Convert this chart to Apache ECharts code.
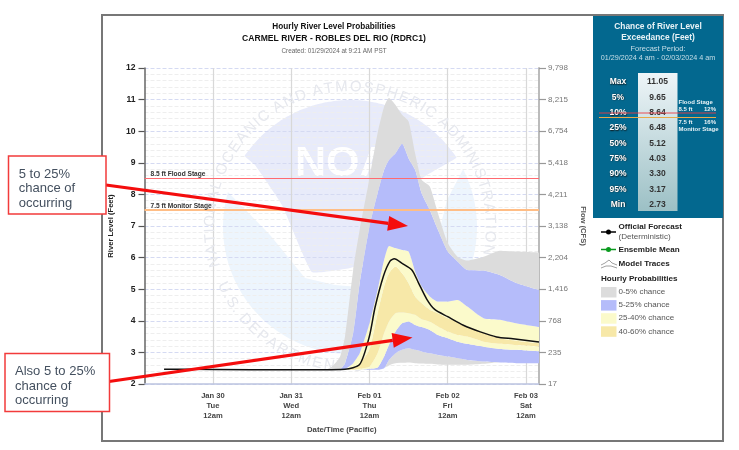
<!DOCTYPE html>
<html>
<head>
<meta charset="utf-8">
<style>
  html, body { margin: 0; padding: 0; background: #fff; }
  #chart { width: 739px; height: 450px; }
</style>
<script src="https://cdn.jsdelivr.net/npm/echarts@6/dist/echarts.min.js"></script>
</head>
<body>
<div id="chart"></div>
<script>
// hours counted from Jan 30 12am
var hours    = [-21, 35, 37, 39, 40.5, 43, 45, 48, 50.5, 52.5, 54, 56, 58, 60, 62, 64, 66.5, 69, 72, 75, 78, 83, 88, 93, 100];
var levelMin = [2.45, 2.45, 2.45, 2.45, 2.45, 2.45, 2.45, 2.45, 2.45, 2.50, 2.60, 2.66, 2.67, 2.68, 2.66, 2.65, 2.64, 2.62, 2.61, 2.61, 2.61, 2.64, 2.68, 2.66, 2.66];
var level95  = [2.45, 2.45, 2.45, 2.45, 2.45, 2.45, 2.45, 2.45, 2.45, 2.50, 2.76, 2.97, 3.08, 3.13, 3.08, 3.03, 2.97, 2.92, 2.87, 2.82, 2.76, 2.71, 2.68, 2.66, 2.66];
var level75  = [2.45, 2.45, 2.45, 2.45, 2.45, 2.45, 2.45, 2.48, 2.52, 2.87, 3.24, 3.66, 3.92, 3.98, 3.87, 3.80, 3.71, 3.55, 3.45, 3.34, 3.27, 3.18, 3.11, 3.08, 3.03];
var level60  = [2.45, 2.45, 2.45, 2.45, 2.45, 2.45, 2.48, 2.55, 2.97, 3.61, 3.98, 4.24, 4.26, 4.24, 4.19, 4.05, 3.98, 3.82, 3.66, 3.55, 3.50, 3.34, 3.27, 3.23, 3.19];
var level40  = [2.45, 2.45, 2.45, 2.45, 2.45, 2.52, 2.66, 3.08, 4.24, 5.09, 5.51, 5.72, 5.51, 5.19, 4.77, 4.56, 4.35, 4.24, 4.08, 3.98, 3.82, 3.61, 3.45, 3.37, 3.29];
var level25  = [2.45, 2.45, 2.45, 2.45, 2.47, 2.66, 2.97, 3.92, 4.98, 5.93, 6.37, 6.30, 6.24, 6.19, 5.56, 5.09, 4.77, 4.61, 4.61, 4.66, 4.45, 4.08, 4.03, 3.92, 3.80];
var level05  = [2.45, 2.45, 2.45, 2.47, 2.66, 3.61, 5.19, 6.98, 8.04, 8.78, 9.09, 9.30, 9.60, 9.14, 8.78, 8.04, 7.51, 6.88, 6.19, 5.88, 5.61, 5.59, 5.45, 5.20, 4.98];
var levelMax = [2.45, 2.47, 2.60, 2.87, 3.50, 5.61, 6.88, 8.50, 9.94, 10.78, 11.05, 10.83, 10.52, 10.31, 9.30, 8.46, 8.25, 7.40, 6.46, 6.03, 5.91, 6.03, 6.22, 6.19, 6.16];

var officialHours  = [-15, 0, 24, 40.5, 45, 48, 49.7, 52.3, 54.3, 55.6, 58, 61, 63, 65.6, 68, 72, 76.8, 82, 87, 92, 100];
var officialLevels = [2.47, 2.46, 2.45, 2.47, 2.62, 3.52, 4.42, 5.42, 5.89, 5.96, 5.82, 5.61, 5.21, 4.68, 4.36, 4.13, 3.86, 3.65, 3.49, 3.43, 3.33];

var xTickHours  = [0, 24, 48, 72, 96];
var xTickLabels = ['Jan 30\nTue\n12am', 'Jan 31\nWed\n12am', 'Feb 01\nThu\n12am', 'Feb 02\nFri\n12am', 'Feb 03\nSat\n12am'];
var flowTicks   = ['17', '235', '768', '1,416', '2,204', '3,138', '4,211', '5,418', '6,754', '8,215', '9,798'];

var stageLevels = [8.5, 7.5];
var stageNames  = ['8.5 ft Flood Stage', '7.5 ft Monitor Stage'];

var tableNames  = ['Max', '5%', '10%', '25%', '50%', '75%', '90%', '95%', 'Min'];
var tableValues = ['11.05', '9.65', '8.64', '6.48', '5.12', '4.03', '3.30', '3.17', '2.73'];

var legendNames  = ['0-5% chance', '5-25% chance', '25-40% chance', '40-60% chance'];
var legendColors = ['#dcdcdc', '#b5bcfa', '#fbfacb', '#f7e8a8'];

var FONT = '"Liberation Sans", Arial, sans-serif';
var JAN30 = Date.UTC(2024, 0, 30);

// hours -> time axis value
function toTime(h) {
    return JAN30 + h * 3600000;
}

// one stacked band: thickness between two probability curves.
// Stacking only goes along y on a time axis, so bands use the hidden time xAxis.
function band(name, lower, upper, color) {
    return {
        name: name,
        type: 'line',
        xAxisIndex: 1,
        stack: 'bands',
        symbol: 'none',
        silent: true,
        smooth: 0.2,
        z: 2,
        lineStyle: { width: 0 },
        areaStyle: color ? { color: color, opacity: 1 } : { opacity: 0 },
        data: hours.map(function (h, i) {
            return [toTime(h), lower ? +(upper[i] - lower[i]).toFixed(2) : upper[i]];
        })
    };
}

function text(x, y, str, style) {
    return {
        type: 'text', x: x, y: y, z: 100, silent: true,
        style: Object.assign({
            text: str, fontFamily: FONT, fontSize: 9, fill: '#222',
            textAlign: 'left', textVerticalAlign: 'middle'
        }, style)
    };
}

function arcPoints(cx, cy, r, from, to, n) {
    var pts = [];
    for (var i = 0; i <= n; i++) {
        var a = (from + (to - from) * i / n) * Math.PI / 180;
        pts.push([cx + r * Math.cos(a), cy - r * Math.sin(a)]);
    }
    return pts;
}

// NOAA seal behind the plot
function sealGraphics() {
    var cx = 350, cy = 227, items = [];
    var lower = arcPoints(cx, cy, 127, 164, 387, 60).concat(
        [[447, 200], [437, 240], [415, 272], [370, 288], [335, 285], [305, 278], [270, 235]]);
    items.push({ type: 'polygon', z: 0, silent: true, shape: { points: lower }, style: { fill: '#edf5fd' } });

    var dome = arcPoints(cx, cy, 127, 146, 33, 30).concat(
        [[420, 180], [408, 225], [390, 255], [350, 268], [312, 272], [282, 205], [255, 165]]);
    items.push({ type: 'polygon', z: 0, silent: true, shape: { points: dome, smooth: 0.1 }, style: { fill: '#e8ebfa' } });

    items.push({
        type: 'text', z: 0, silent: true, x: 295, y: 164,
        style: { text: 'NOAA', fontFamily: FONT, fontWeight: 'bold', fontSize: 43, fill: '#fff', textVerticalAlign: 'middle' }
    });

    // letters placed by their own width so the ring keeps even spacing
    var ctx = document.createElement('canvas').getContext('2d');
    ctx.font = '15px ' + FONT;
    function ring(str, start, range, r, bottom) {
        var widths = str.split('').map(function (ch) { return ctx.measureText(ch).width; });
        var total = widths.reduce(function (a, b) { return a + b; }, 0);
        var run = 0;
        str.split('').forEach(function (ch, i) {
            var a = (start + range * (run + widths[i] / 2) / total) * Math.PI / 180;
            run += widths[i];
            items.push({
                type: 'text', z: 1, silent: true,
                x: cx + r * Math.cos(a), y: cy - r * Math.sin(a),
                rotation: bottom ? a + Math.PI / 2 : a - Math.PI / 2,
                style: {
                    text: ch, fontFamily: FONT, fontSize: 15, fill: '#e6e8ee',
                    textAlign: 'center', textVerticalAlign: 'middle'
                }
            });
        });
    }
    ring('NATIONAL OCEANIC AND ATMOSPHERIC ADMINISTRATION', 197, -209, 140, false);
    ring('U.S. DEPARTMENT OF COMMERCE', -157, 122, 140, true);
    return items;
}

function panelGraphics() {
    var items = [];
    items.push({
        type: 'rect', z: 90, silent: true,
        shape: { x: 593, y: 16, width: 130, height: 202 },
        style: { fill: '#03688f' }
    });
    items.push(text(658, 27, 'Chance of River Level', { fill: '#e8f2f6', fontWeight: 'bold', fontSize: 8.4, textAlign: 'center' }));
    items.push(text(658, 38, 'Exceedance (Feet)', { fill: '#e8f2f6', fontWeight: 'bold', fontSize: 8.4, textAlign: 'center' }));
    items.push(text(658, 49, 'Forecast Period:', { fill: '#c8dfe8', fontSize: 7.5, textAlign: 'center' }));
    items.push(text(658, 58, '01/29/2024 4 am - 02/03/2024 4 am', { fill: '#c8dfe8', fontSize: 7.2, textAlign: 'center' }));
    items.push({
        type: 'rect', z: 91, silent: true,
        shape: { x: 638, y: 73, width: 39.5, height: 138 },
        style: {
            fill: new echarts.graphic.LinearGradient(0, 0, 0, 1, [
                { offset: 0, color: '#eef5f8' }, { offset: 1, color: '#9cc0c5' }
            ])
        }
    });
    tableNames.forEach(function (name, i) {
        var y = 82 + i * 15.33;
        items.push(text(618, y, name, {
            fill: '#fff', fontWeight: 'bold', fontSize: 8.5, textAlign: 'center',
            textShadowColor: '#111', textShadowBlur: 1.5, textShadowOffsetX: 0.5, textShadowOffsetY: 0.5
        }));
        items.push(text(657.5, y, tableValues[i], { fill: '#333', fontWeight: 'bold', fontSize: 8.5, textAlign: 'center' }));
    });
    items.push({ type: 'line', z: 101, silent: true, shape: { x1: 599, y1: 113, x2: 716, y2: 113 }, style: { stroke: 'rgba(235,60,70,0.6)', lineWidth: 1.5 } });
    items.push({ type: 'line', z: 101, silent: true, shape: { x1: 599, y1: 117.5, x2: 716, y2: 117.5 }, style: { stroke: '#e9a949', lineWidth: 1 } });
    var small = { fill: '#e8f2f6', fontWeight: 'bold', fontSize: 6 };
    items.push(text(678.5, 102, 'Flood Stage', small));
    items.push(text(678.5, 109, '8.5 ft', small));
    items.push(text(716, 109, '12%', Object.assign({}, small, { textAlign: 'right' })));
    items.push(text(678.5, 122, '7.5 ft', small));
    items.push(text(716, 122, '16%', Object.assign({}, small, { textAlign: 'right' })));
    items.push(text(678.5, 129, 'Monitor Stage', small));
    return items;
}

function legendGraphics() {
    var items = [];
    function lineIcon(y, color) {
        items.push({ type: 'line', z: 100, silent: true, shape: { x1: 601, y1: y, x2: 616, y2: y }, style: { stroke: color, lineWidth: 1.5 } });
        items.push({ type: 'circle', z: 100, silent: true, shape: { cx: 608.5, cy: y, r: 2.5 }, style: { fill: color } });
    }
    lineIcon(232, '#000');
    lineIcon(249.5, '#0a9a1e');
    items.push(text(618.5, 227, 'Official Forecast', { fontWeight: 'bold', fontSize: 8.1 }));
    items.push(text(618.5, 237, '(Deterministic)', { fill: '#555', fontSize: 8.1 }));
    items.push(text(618.5, 249.5, 'Ensemble Mean', { fontWeight: 'bold', fontSize: 8.1 }));
    items.push(text(618.5, 264, 'Model Traces', { fontWeight: 'bold', fontSize: 8.1 }));
    items.push({ type: 'polyline', z: 100, silent: true, shape: { points: [[601, 265], [605, 263], [609, 260], [612, 263], [617, 265]] }, style: { stroke: '#888', lineWidth: 0.8, fill: null } });
    items.push({ type: 'polyline', z: 100, silent: true, shape: { points: [[601, 268], [606, 266], [611, 266], [617, 268]] }, style: { stroke: '#888', lineWidth: 0.8, fill: null } });
    items.push(text(601, 279, 'Hourly Probabilities', { fontWeight: 'bold', fontSize: 8.1 }));
    legendNames.forEach(function (name, i) {
        var y = 292 + i * 13.1;
        items.push({ type: 'rect', z: 100, silent: true, shape: { x: 601, y: y - 5, width: 15.5, height: 10.5 }, style: { fill: legendColors[i] } });
        items.push(text(618.5, y, name, { fill: '#555', fontSize: 8 }));
    });
    return items;
}

function arrow(x1, y1, x2, y2) {
    var ang = Math.atan2(y2 - y1, x2 - x1), len = 20, half = 7.5;
    var bx = x2 - len * Math.cos(ang), by = y2 - len * Math.sin(ang);
    var nx = -Math.sin(ang), ny = Math.cos(ang);
    return [
        { type: 'line', z: 110, silent: true, shape: { x1: x1, y1: y1, x2: bx, y2: by }, style: { stroke: '#f40d0d', lineWidth: 3.2 } },
        { type: 'polygon', z: 110, silent: true, shape: { points: [[x2, y2], [bx + nx * half, by + ny * half], [bx - nx * half, by - ny * half]] }, style: { fill: '#f40d0d' } }
    ];
}

function callout(x, y, w, h, tx, lines) {
    var items = [{
        type: 'rect', z: 120, silent: true,
        shape: { x: x, y: y, width: w, height: h },
        style: { fill: '#fff', stroke: '#f23b3b', lineWidth: 1.5 }
    }];
    lines.forEach(function (line, i) {
        items.push(Object.assign(text(tx, y + 18 + i * 14.6, line, { fill: '#44505f', fontSize: 13 }), { z: 121 }));
    });
    return items;
}

var graphics = [{
    type: 'rect', z: 0, silent: true,
    shape: { x: 102, y: 15, width: 621, height: 426 },
    style: { fill: '#fff', stroke: '#777', lineWidth: 2 }
}].concat(
    sealGraphics(),
    panelGraphics(),
    legendGraphics(),
    arrow(106, 185, 408, 226),
    arrow(109, 381.5, 412.5, 337.5),
    callout(8.5, 156, 97.5, 58, 18.7, ['5 to 25%', 'chance of', 'occurring']),
    callout(5, 353.5, 104.5, 58, 15, ['Also 5 to 25%', 'chance of', 'occurring']),
    [
        text(334, 27, 'Hourly River Level Probabilities', { fontWeight: 'bold', fontSize: 8.2, textAlign: 'center', fill: '#111' }),
        text(334, 38.5, 'CARMEL RIVER - ROBLES DEL RIO (RDRC1)', { fontWeight: 'bold', fontSize: 8.6, textAlign: 'center', fill: '#111' }),
        text(334, 51, 'Created: 01/29/2024 at 9:21 AM PST', { fontSize: 6.4, textAlign: 'center', fill: '#666' })
    ]
);

var chart = echarts.init(document.getElementById('chart'), null, { renderer: 'canvas' });

var series = [
    band('base', null, levelMin),
    band('min-95', levelMin, level95, legendColors[0]),
    band('95-75', level95, level75, legendColors[1]),
    band('75-60', level75, level60, legendColors[2]),
    band('60-40', level60, level40, legendColors[3]),
    band('40-25', level40, level25, legendColors[2]),
    band('25-5', level25, level05, legendColors[1]),
    band('5-max', level05, levelMax, legendColors[0]),
    {
        name: 'Official Forecast',
        type: 'line',
        symbol: 'none',
        smooth: 0.25,
        z: 5,
        lineStyle: { color: '#111', width: 1.5 },
        data: officialHours.map(function (h, i) { return [h, officialLevels[i]]; }),
        markLine: {
            silent: true,
            symbol: 'none',
            animation: false,
            data: stageLevels.map(function (lvl, i) {
                return {
                    yAxis: lvl,
                    lineStyle: { type: 'solid', width: i === 0 ? 1.2 : 1.8, color: i === 0 ? '#ff6a70' : '#ffbd85' },
                    label: {
                        show: true, position: 'insideStartTop', formatter: stageNames[i],
                        fontFamily: FONT, fontSize: 6.6, fontWeight: 'bold', color: '#333',
                        distance: [6, 0.5]
                    }
                };
            })
        }
    }
];

chart.setOption({
    animation: false,
    backgroundColor: '#fff',
    grid: { left: 144.5, top: 68, right: 200, bottom: 66, containLabel: false },
    graphic: graphics,
    xAxis: [
        {
            type: 'value',
            min: -21,
            max: 100,
            name: 'Date/Time (Pacific)',
            nameLocation: 'middle',
            nameGap: 39,
            nameTextStyle: { fontFamily: FONT, fontSize: 7.8, fontWeight: 'bold', color: '#444' },
            axisLine: { onZero: false, lineStyle: { color: '#bcc3e0', width: 1.5 } },
            axisTick: { show: false, customValues: xTickHours },
            axisLabel: {
                customValues: xTickHours,
                margin: 7,
                lineHeight: 10,
                fontFamily: FONT, fontSize: 7.6, fontWeight: 'bold', color: '#444',
                formatter: function (v) { return xTickLabels[xTickHours.indexOf(v)]; }
            },
            splitLine: { show: true, lineStyle: { color: '#d8d8d8', width: 1.2 } }
        },
        {
            type: 'time',
            show: false,
            min: toTime(-21),
            max: toTime(100)
        }
    ],
    yAxis: [
        {
            type: 'value',
            min: 2,
            max: 12,
            interval: 1,
            name: 'River Level (Feet)',
            nameLocation: 'middle',
            nameGap: 25,
            nameTextStyle: { fontFamily: FONT, fontSize: 7.6, fontWeight: 'bold', color: '#222' },
            axisLine: { show: true, onZero: false, lineStyle: { color: '#666', width: 1.5 } },
            axisTick: { show: true, length: 6, lineStyle: { color: '#555', width: 1.2 } },
            minorTick: { show: false, splitNumber: 5 },
            axisLabel: { margin: 9, fontFamily: FONT, fontSize: 8.6, fontWeight: 'bold', color: '#222' },
            splitLine: { show: true, lineStyle: { type: 'dashed', color: '#d5daf2', width: 1 } },
            minorSplitLine: { show: true, lineStyle: { type: 'dashed', color: '#eeeeee', width: 1 } }
        },
        {
            type: 'value',
            min: 2,
            max: 12,
            interval: 1,
            position: 'right',
            name: 'Flow (CFS)',
            nameLocation: 'middle',
            nameGap: 34,
            nameRotate: -90,
            nameTextStyle: { fontFamily: FONT, fontSize: 7.6, fontWeight: 'bold', color: '#555' },
            axisLine: { show: true, onZero: false, lineStyle: { color: '#bbb', width: 2 } },
            axisTick: { show: true, length: 7, lineStyle: { color: '#999', width: 1.2 } },
            axisLabel: {
                margin: 9, fontFamily: FONT, fontSize: 8, color: '#777',
                formatter: function (v) { return flowTicks[v - 2]; }
            },
            splitLine: { show: false }
        }
    ],
    series: series
});
</script>
</body>
</html>
